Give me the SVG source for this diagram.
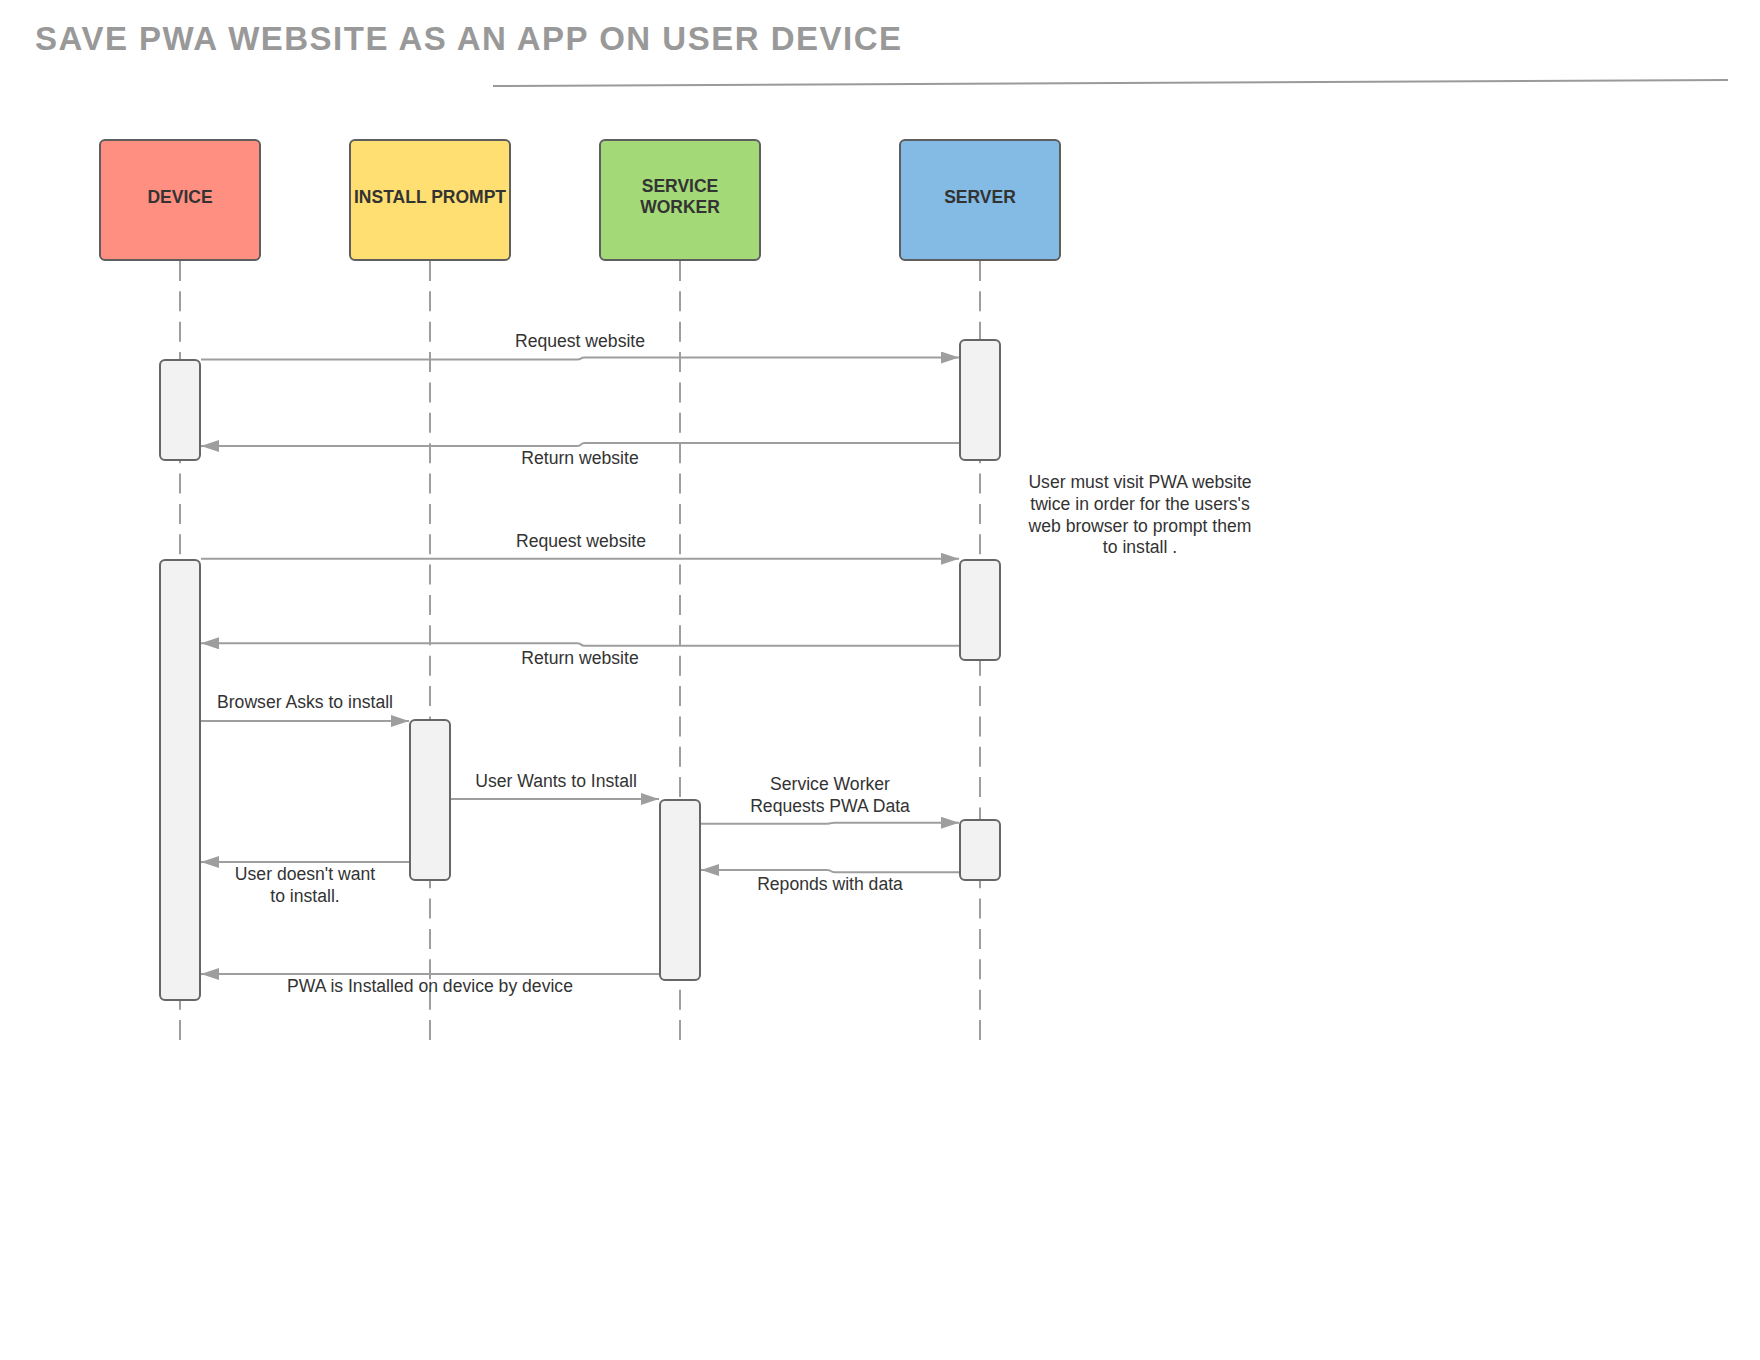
<svg xmlns="http://www.w3.org/2000/svg" width="1760" height="1360" viewBox="0 0 1760 1360">
  <defs>
    <marker id="arrow" markerUnits="userSpaceOnUse" markerWidth="18" markerHeight="12" refX="18" refY="6" orient="auto">
      <path d="M0,0 L18,6 L0,12 Z" fill="#9e9e9e"/>
    </marker>
    <style>
      .title { font-family: "Liberation Sans", Arial, sans-serif; font-weight: bold; font-size: 33px; fill: #999999; }
      .head { stroke: #5e5e5e; stroke-width: 2; }
      .hlabel { font-family: "Liberation Sans", Arial, sans-serif; font-weight: bold; font-size: 17.5px; fill: #333333; text-anchor: middle; }
      .life { stroke: #9e9e9e; stroke-width: 2; stroke-dasharray: 20 10.36; fill: none; }
      .act { fill: #f2f2f2; stroke: #666666; stroke-width: 2; }
      .msg { stroke: #9e9e9e; stroke-width: 2; fill: none; marker-end: url(#arrow); }
      .label { font-family: "Liberation Sans", Arial, sans-serif; font-size: 17.6px; fill: #333333; text-anchor: middle; }
    </style>
  </defs>
  <rect width="1760" height="1360" fill="#ffffff"/>

  <g id="title">
    <text class="title" x="35" y="50" textLength="866" lengthAdjust="spacing">SAVE PWA WEBSITE AS AN APP ON USER DEVICE</text>
    <line x1="493" y1="86" x2="1728" y2="80" stroke="#9a9a9a" stroke-width="2"/>
  </g>

  <g id="lifelines">
    <line class="life" x1="180" y1="261" x2="180" y2="1040"/>
    <line class="life" x1="430" y1="261" x2="430" y2="1040"/>
    <line class="life" x1="680" y1="261" x2="680" y2="1040"/>
    <line class="life" x1="980" y1="261" x2="980" y2="1040"/>
  </g>

  <g id="device">
    <rect class="head" x="100" y="140" width="160" height="120" rx="5" fill="#ff8f80"/>
    <text class="hlabel" x="180" y="203">DEVICE</text>
  </g>
  <g id="install-prompt">
    <rect class="head" x="350" y="140" width="160" height="120" rx="5" fill="#ffdf71"/>
    <text class="hlabel" x="430" y="203">INSTALL PROMPT</text>
  </g>
  <g id="service-worker">
    <rect class="head" x="600" y="140" width="160" height="120" rx="5" fill="#a3d977"/>
    <text class="hlabel" x="680" y="192">SERVICE</text>
    <text class="hlabel" x="680" y="213.3">WORKER</text>
  </g>
  <g id="server">
    <rect class="head" x="900" y="140" width="160" height="120" rx="5" fill="#83bbe5"/>
    <text class="hlabel" x="980" y="203">SERVER</text>
  </g>

  <g id="activations">
    <rect id="act-device-1" class="act" x="160" y="360" width="40" height="100" rx="5"/>
    <rect id="act-device-2" class="act" x="160" y="560" width="40" height="440" rx="5"/>
    <rect id="act-install" class="act" x="410" y="720" width="40" height="160" rx="5"/>
    <rect id="act-sw" class="act" x="660" y="800" width="40" height="180" rx="5"/>
    <rect id="act-server-1" class="act" x="960" y="340" width="40" height="120" rx="5"/>
    <rect id="act-server-2" class="act" x="960" y="560" width="40" height="100" rx="5"/>
    <rect id="act-server-3" class="act" x="960" y="820" width="40" height="60" rx="5"/>
  </g>

  <g id="note">
    <text class="label" x="1140" y="488">User must visit PWA website</text>
    <text class="label" x="1140" y="510">twice in order for the users's</text>
    <text class="label" x="1140" y="531.7">web browser to prompt them</text>
    <text class="label" x="1140" y="553">to install .</text>
  </g>

  <g id="connectors">
    <path class="msg" d="M201,359.5 H577 Q580,359.5 581,358.5 Q582,357.5 585,357.5 H959"/>
    <text class="label" x="580" y="347">Request website</text>

    <path class="msg" d="M959,443 H585 Q582,443 581,444.5 Q580,446 577,446 H201"/>
    <text class="label" x="580" y="464">Return website</text>

    <path class="msg" d="M201,558.8 H959"/>
    <text class="label" x="581" y="547">Request website</text>

    <path class="msg" d="M959,645.7 H585 Q582,645.7 581,644.5 Q580,643.3 577,643.3 H201"/>
    <text class="label" x="580" y="664">Return website</text>

    <path class="msg" d="M201,721 H409"/>
    <text class="label" x="305" y="708">Browser Asks to install</text>

    <path class="msg" d="M451,799 H659"/>
    <text class="label" x="556" y="787">User Wants to Install</text>

    <path class="msg" d="M701,823.7 H827 Q830,823.7 831,823.2 Q832,822.7 835,822.7 H959"/>
    <text class="label" x="830" y="790">Service Worker</text>
    <text class="label" x="830" y="811.7">Requests PWA Data</text>

    <path class="msg" d="M959,872.3 H835 Q832,872.3 831,871.2 Q830,870 827,870 H701"/>
    <text class="label" x="830" y="890">Reponds with data</text>

    <path class="msg" d="M409,862 H201"/>
    <text class="label" x="305" y="880">User doesn't want</text>
    <text class="label" x="305" y="901.7">to install.</text>

    <path class="msg" d="M659,974 H201"/>
    <text class="label" x="430" y="991.7">PWA is Installed on device by device</text>
  </g>
</svg>
